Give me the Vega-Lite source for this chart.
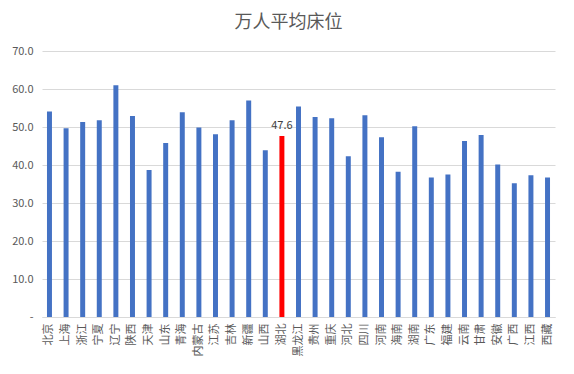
{
  "$schema": "https://vega.github.io/schema/vega-lite/v6.json",
  "autosize": {"type": "none"},
  "width": 513,
  "height": 266,
  "padding": {"left": 42, "top": 51, "right": 19, "bottom": 57},
  "background": "white",
  "title": {
    "text": "万人平均床位",
    "fontSize": 18,
    "fontWeight": "normal",
    "color": "#595959",
    "font": "Noto Sans CJK SC",
    "offset": 13,
    "dx": -10
  },
  "data": {
    "values": [
      {"name": "北京", "value": 54.1},
      {"name": "上海", "value": 49.7},
      {"name": "浙江", "value": 51.3},
      {"name": "宁夏", "value": 51.8},
      {"name": "辽宁", "value": 61.0},
      {"name": "陕西", "value": 52.9},
      {"name": "天津", "value": 38.7},
      {"name": "山东", "value": 45.8},
      {"name": "青海", "value": 53.9},
      {"name": "内蒙古", "value": 49.9},
      {"name": "江苏", "value": 48.1},
      {"name": "吉林", "value": 51.8},
      {"name": "新疆", "value": 57.0},
      {"name": "山西", "value": 43.9},
      {"name": "湖北", "value": 47.6},
      {"name": "黑龙江", "value": 55.4},
      {"name": "贵州", "value": 52.6},
      {"name": "重庆", "value": 52.3},
      {"name": "河北", "value": 42.3},
      {"name": "四川", "value": 53.1},
      {"name": "河南", "value": 47.3},
      {"name": "海南", "value": 38.2},
      {"name": "湖南", "value": 50.2},
      {"name": "广东", "value": 36.7},
      {"name": "福建", "value": 37.5},
      {"name": "云南", "value": 46.3},
      {"name": "甘肃", "value": 47.9},
      {"name": "安徽", "value": 40.1},
      {"name": "广西", "value": 35.2},
      {"name": "江西", "value": 37.3},
      {"name": "西藏", "value": 36.7}
    ]
  },
  "encoding": {
    "x": {
      "field": "name",
      "type": "nominal",
      "sort": null,
      "scale": {"paddingInner": 0.7, "paddingOuter": 0.3},
      "axis": {
        "title": null,
        "labelAngle": -90,
        "labelFont": "Noto Sans CJK SC",
        "labelFontSize": 11,
        "labelColor": "#595959",
        "labelPadding": 6,
        "ticks": false,
        "domain": true,
        "domainColor": "#d9d9d9",
        "grid": false
      }
    },
    "y": {
      "field": "value",
      "type": "quantitative",
      "scale": {"domain": [0, 70], "nice": false},
      "axis": {
        "title": null,
        "values": [0, 10, 20, 30, 40, 50, 60, 70],
        "labelExpr": "datum.value == 0 ? '-' : format(datum.value, '.1f')",
        "labelFont": "Noto Sans CJK SC",
        "labelFontSize": 11,
        "labelColor": "#595959",
        "labelPadding": 9,
        "ticks": false,
        "domain": false,
        "grid": true,
        "gridColor": "#d9d9d9"
      }
    }
  },
  "layer": [
    {
      "mark": {"type": "bar"},
      "encoding": {
        "color": {
          "condition": {"test": "datum.name == '湖北'", "value": "#FF0000"},
          "value": "#4472C4"
        }
      }
    },
    {
      "transform": [{"filter": "datum.name == '湖北'"}],
      "mark": {
        "type": "text",
        "dy": -10,
        "font": "Noto Sans CJK SC",
        "fontSize": 11,
        "color": "#404040"
      },
      "encoding": {
        "text": {"field": "value", "type": "quantitative", "format": ".1f"}
      }
    }
  ],
  "config": {
    "view": {"stroke": null}
  }
}
